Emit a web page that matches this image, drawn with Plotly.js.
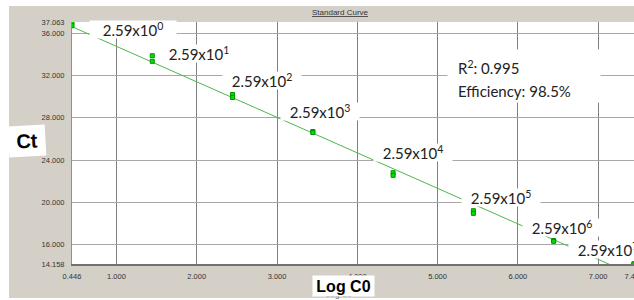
<!DOCTYPE html>
<html>
<head>
<meta charset="utf-8">
<script src="https://cdn.plot.ly/plotly-3.0.1.min.js"></script>
<style>html,body{margin:0;padding:0;background:#fff;}#chart{width:634px;height:300px;}</style>
</head>
<body>
<div id="chart"></div>
<script>
// ---- data ----
var logC0 = [0.446,0.446,1.446,1.446,2.446,2.446,3.446,3.446,4.446,4.446,5.446,5.446,6.446,6.446,7.446,7.446];
var ct    = [37.03,36.71,33.87,33.34,30.20,29.92,26.70,26.60,22.80,22.55,19.20,18.95,16.38,16.30,14.17,14.16];
var fitX = [0.446, 7.446];
var fitY = [36.62, 13.10];
var xTicks = [0.446,1,2,3,4,5,6,7,7.446];
var yTicks = [14.158,16,20,24,28,32,36,37.063];
var concExp = [0,1,2,3,4,5,6,7];
var concMantissa = "2.59";
var rSquared = "0.995";
var efficiency = "98.5%";

// label placement (layout only)
var labelX = [1.205,2.027,2.817,3.533,4.691,5.787,6.546,7.119];
var labelY = [36.40,34.10,31.55,28.55,24.75,20.47,17.66,15.55];
var labelW = [86,80,78,78,78,78,78,78];

var xRange = [0.446, 7.4468];
var yRange = [14.158, 37.063];

var labelFont = {family:"Lato, 'Open Sans', sans-serif", size:15, color:"#222"};
var ann = [];
// faint original axis title behind box
ann.push({xref:'paper', yref:'paper', x:0.475, y:-0.124, text:'Log C0', showarrow:false,
  font:{family:'Arial', size:8, color:'#666'}, xanchor:'center', yanchor:'middle'});
for (var i=0;i<concExp.length;i++){
  ann.push({xref:'x', yref:'y', x:labelX[i], y:labelY[i],
    text: concMantissa + 'x10<sup>' + concExp[i] + '</sup>', showarrow:false,
    font:labelFont, bgcolor:'#ffffff', width:labelW[i], height:17, borderpad:0,
    xanchor:'center', yanchor:'middle', align:'center'});
}
// R2/efficiency box
ann.push({xref:'x', yref:'y', x:6.073, y:31.95, text:' ', showarrow:false,
  bgcolor:'#ffffff', width:152, height:52, borderpad:0, xanchor:'center', yanchor:'middle'});
ann.push({xref:'x', yref:'y', x:5.226, y:32.71, text:'R<sup>2</sup>: ' + rSquared, showarrow:false,
  font:labelFont, xanchor:'left', yanchor:'middle', align:'left'});
ann.push({xref:'x', yref:'y', x:5.226, y:30.53, text:'Efficiency: ' + efficiency, showarrow:false,
  font:labelFont, xanchor:'left', yanchor:'middle', align:'left'});
// title
ann.push({xref:'paper', yref:'paper', x:0.477, y:1.041, text:'<u>Standard Curve</u>', showarrow:false,
  font:{family:'Arial', size:8, color:'#333'}, xanchor:'center', yanchor:'middle'});
// axis titles in white boxes
ann.push({xref:'paper', yref:'paper', x:0.4831, y:-0.0909, text:'<b>Log C0</b>', showarrow:false,
  font:{family:'Arial', size:16, color:'#000'}, bgcolor:'#ffffff', width:61, height:20, borderpad:0,
  xanchor:'center', yanchor:'middle'});
ann.push({xref:'paper', yref:'paper', x:-0.0801, y:0.5103, text:'<b>Ct</b>', showarrow:false,
  font:{family:'Arial', size:20, color:'#000'}, bgcolor:'#ffffff', width:36, height:30, borderpad:0,
  textangle:-3, xanchor:'center', yanchor:'middle'});

var traces = [
  {x:fitX, y:fitY, type:'scatter', mode:'lines', line:{color:'#4cb84c', width:1}, hoverinfo:'skip'},
  {x:logC0, y:ct, type:'scatter', mode:'markers',
   marker:{symbol:'square', size:4, color:'#00e000', line:{color:'#009000', width:1}}}
];

var layout = {
  width:634, height:300,
  margin:{l:72, r:0, t:22, b:36, pad:0},
  paper_bgcolor:'#d4d0c8', plot_bgcolor:'#ffffff',
  showlegend:false,
  font:{family:'Arial', size:8, color:'#333'},
  xaxis:{range:xRange, tickvals:xTicks, ticktext:xTicks.map(function(v){return v.toFixed(3);}),
    showgrid:true, gridcolor:'#808080', gridwidth:1, zeroline:false,
    showline:true, linecolor:'#707070', linewidth:2, ticks:'', ticklen:0,
    ticklabeloverflow:'allow',
    tickfont:{family:'Arial', size:7.5, color:'#333'}, ticklabelstandoff:4, fixedrange:true},
  yaxis:{range:yRange, tickvals:yTicks, ticktext:yTicks.map(function(v){return v.toFixed(3);}),
    showgrid:true, gridcolor:'#a8a8a8', gridwidth:1, zeroline:false,
    showline:true, linecolor:'#909090', linewidth:1, ticks:'', ticklen:0,
    ticklabeloverflow:'allow',
    tickfont:{family:'Arial', size:7.5, color:'#333'}, ticklabelstandoff:5, fixedrange:true},
  annotations:ann,
  shapes:[
    {type:'rect', xref:'paper', yref:'paper', x0:-0.2, x1:1.2, y0:1.0661, y1:1.2, fillcolor:'#ffffff', line:{width:0}, layer:'above'},
    {type:'rect', xref:'paper', yref:'paper', x0:-0.2, x1:-0.1121, y0:-0.3, y1:1.2, fillcolor:'#ffffff', line:{width:0}, layer:'above'},
    {type:'rect', xref:'paper', yref:'paper', x0:-0.2, x1:1.2, y0:-0.3, y1:-0.1405, fillcolor:'#ffffff', line:{width:0}, layer:'above'}
  ]
};

Plotly.newPlot('chart', traces, layout, {displayModeBar:false, staticPlot:true});
</script>
</body>
</html>
